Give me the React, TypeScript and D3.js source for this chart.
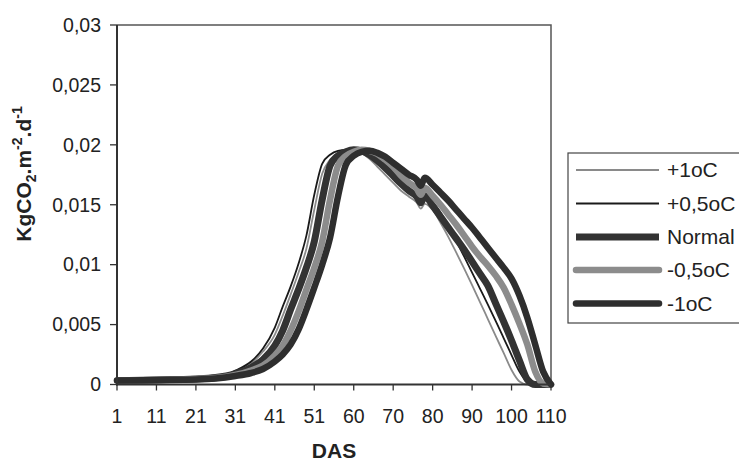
import React from 'react'
import * as d3 from 'd3'

// category positions (Excel category axis, one slot per sampling date)
const pos = [0, 10, 20, 25, 30, 34, 37, 40, 42, 44, 46, 48, 50, 52, 54, 56, 58, 60, 62, 64, 66, 68, 70, 72, 74, 76, 77, 78, 80, 82, 84, 86, 88, 90, 92, 94, 96, 98, 100, 102, 104, 106, 108, 110]

const plus1 = [0.00029, 0.00033, 0.00042, 0.0005, 0.00108, 0.00175, 0.00275, 0.00417, 0.00575, 0.0075, 0.00933, 0.01133, 0.01458, 0.01758, 0.01875, 0.01933, 0.01954, 0.01958, 0.01933, 0.01883, 0.01817, 0.0175, 0.01683, 0.01617, 0.01567, 0.01517, 0.01467, 0.01508, 0.01458, 0.0135, 0.0123, 0.011, 0.00967, 0.00829, 0.00688, 0.00546, 0.00404, 0.00263, 0.00121, 0.00025, 0, 0, 0, 0]
const plus05 = [0.00029, 0.00033, 0.00042, 0.00054, 0.00117, 0.00192, 0.003, 0.00475, 0.0065, 0.00817, 0.01008, 0.01242, 0.01583, 0.01842, 0.01917, 0.0195, 0.01958, 0.01958, 0.01942, 0.01908, 0.0185, 0.01792, 0.01725, 0.01658, 0.016, 0.0155, 0.015, 0.0155, 0.01517, 0.01433, 0.01321, 0.01196, 0.01067, 0.00933, 0.008, 0.00667, 0.00529, 0.00388, 0.00246, 0.00108, 0.00021, 0, 0, 0]
const normal = [0.00033, 0.00038, 0.00046, 0.00058, 0.00092, 0.00142, 0.00208, 0.00325, 0.0045, 0.00625, 0.00792, 0.00975, 0.01192, 0.01542, 0.01825, 0.01908, 0.01942, 0.01958, 0.0195, 0.01917, 0.01867, 0.01808, 0.01742, 0.01675, 0.01617, 0.01567, 0.01517, 0.01575, 0.01492, 0.014, 0.01308, 0.01217, 0.01125, 0.01025, 0.00925, 0.00825, 0.00675, 0.00525, 0.00367, 0.002, 0.00042, 0, 0, 0]
const minus05 = [0.00033, 0.00038, 0.00046, 0.00054, 0.00079, 0.00117, 0.00158, 0.00242, 0.00325, 0.0045, 0.00608, 0.00792, 0.00975, 0.01192, 0.01542, 0.01825, 0.01908, 0.01942, 0.01958, 0.0195, 0.01925, 0.01875, 0.01817, 0.01742, 0.01683, 0.01633, 0.01583, 0.01642, 0.01575, 0.015, 0.01417, 0.01333, 0.01242, 0.0115, 0.01067, 0.00992, 0.00908, 0.00808, 0.00667, 0.00508, 0.00333, 0.00108, 0.00008, 0]
const minus1 = [0.00033, 0.00038, 0.00042, 0.0005, 0.00071, 0.00096, 0.00129, 0.00192, 0.0025, 0.00333, 0.00458, 0.00625, 0.00808, 0.01, 0.01225, 0.01567, 0.01833, 0.01908, 0.01942, 0.0195, 0.01933, 0.019, 0.0185, 0.018, 0.0175, 0.01708, 0.01658, 0.01725, 0.01667, 0.016, 0.01533, 0.01458, 0.01383, 0.01308, 0.01225, 0.01142, 0.01058, 0.00975, 0.00883, 0.00742, 0.00558, 0.00333, 0.00108, 0]

const xLabels = ['1', '11', '21', '31', '41', '51', '60', '70', '80', '90', '100', '110']
const yTicks = [0, 0.005, 0.01, 0.015, 0.02, 0.025, 0.03]

const series = [
  { name: '+1oC', values: plus1, color: '#8a8a8a', width: 1.8, cap: 'butt' },
  { name: '+0,5oC', values: plus05, color: '#1a1a1a', width: 1.8, cap: 'butt' },
  { name: 'Normal', values: normal, color: '#333', width: 7, cap: 'butt' },
  { name: '-0,5oC', values: minus05, color: '#8c8c8c', width: 6.5, cap: 'round' },
  { name: '-1oC', values: minus1, color: '#2e2e2e', width: 6.5, cap: 'round' },
]

const font = 'Liberation Sans, Arial, sans-serif'

export default function App() {
  const x = d3.scaleLinear().domain([0, 110]).range([117, 551])
  const y = d3.scaleLinear().domain([0, 0.03]).range([384.5, 25])

  const mkLine = (vals: number[]) =>
    d3.line<number>()
      .x((_, i) => x(pos[i]))
      .y(d => y(d))
      .curve(d3.curveMonotoneX)(vals) || ''

  const legendY = [170, 203.5, 237, 270, 303.5]

  return (
    <svg width={739} height={462} style={{ position: 'absolute', left: 0, top: 0, background: '#fff' }} fontFamily={font}>
      {/* plot frame */}
      <path d={`M${x(0)},${y(0.03)} H${x(110)} V${y(0)}`} fill="none" stroke="#555" strokeWidth={1.5} />

      {series.map(s => (
        <path key={s.name} d={mkLine(s.values)} fill="none" stroke={s.color}
          strokeWidth={s.width} strokeLinejoin="round" strokeLinecap={s.cap as any} />
      ))}

      {/* axes */}
      <line x1={x(0)} x2={x(0)} y1={y(0.03)} y2={y(0) + 1} stroke="#333" strokeWidth={2} />
      <line x1={x(0) - 1} x2={x(110)} y1={y(0)} y2={y(0)} stroke="#333" strokeWidth={2} />
      {yTicks.map(t => (
        <g key={t}>
          <line x1={x(0) - 7} x2={x(0)} y1={y(t)} y2={y(t)} stroke="#333" strokeWidth={1.3} />
          <text x={101} y={y(t)} dy="0.35em" textAnchor="end" fontSize={19.5} fill="#222">
            {String(t).replace('.', ',')}
          </text>
        </g>
      ))}
      {xLabels.map((l, i) => (
        <g key={l}>
          <line x1={x(i * 10)} x2={x(i * 10)} y1={y(0)} y2={y(0) + 6} stroke="#333" strokeWidth={1.3} />
          <text x={x(i * 10)} y={423} textAnchor="middle" fontSize={19.5} fill="#222">{l}</text>
        </g>
      ))}

      <text x={334} y={458} textAnchor="middle" fontSize={21} fontWeight="bold" fill="#222">DAS</text>
      <text transform="translate(31,174) rotate(-90)" textAnchor="middle" fontSize={21} fontWeight="bold" fill="#222">
        KgCO<tspan fontSize={14} dy={5}>2</tspan><tspan dy={-5}>.m</tspan>
        <tspan fontSize={14} dy={-9}>-2</tspan><tspan dy={9}>.d</tspan>
        <tspan fontSize={14} dy={-9}>-1</tspan>
      </text>

      {/* legend */}
      <rect x={568} y={153} width={190} height={170} fill="#fff" stroke="#444" strokeWidth={1.2} />
      {series.map((s, i) => (
        <g key={s.name}>
          <line x1={576} x2={659} y1={legendY[i]} y2={legendY[i]} stroke={s.color}
            strokeWidth={s.width} strokeLinecap={s.cap as any} />
          <text x={667} y={legendY[i]} dy="0.35em" fontSize={21} fill="#222">{s.name}</text>
        </g>
      ))}
    </svg>
  )
}
